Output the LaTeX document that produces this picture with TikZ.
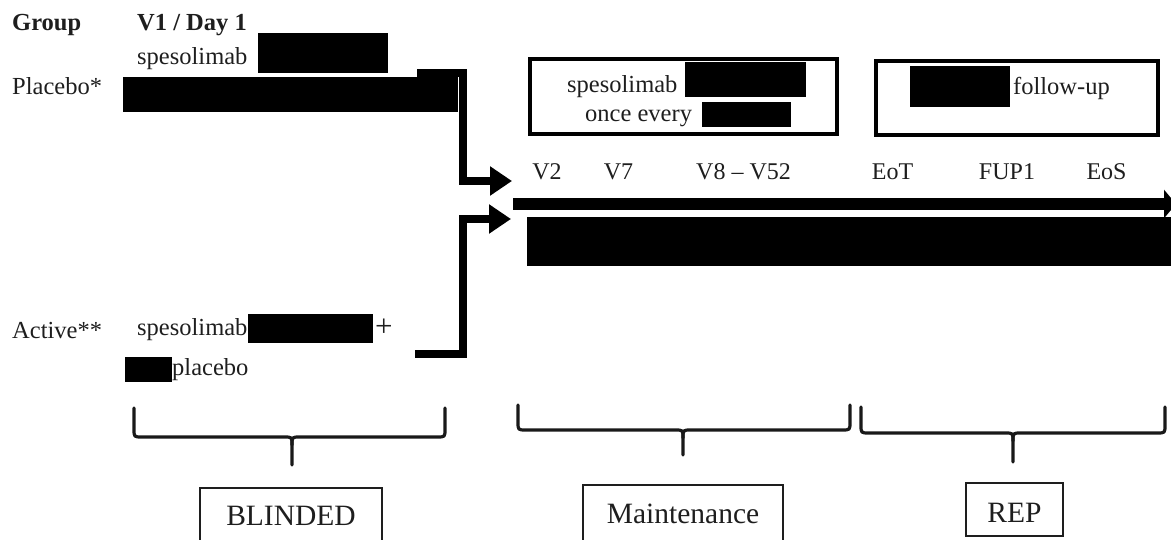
\documentclass[tikz,border=0pt]{standalone}
\usepackage{fontspec}
\setmainfont{Liberation Serif}
\usetikzlibrary{arrows.meta,calc}
\definecolor{ink}{RGB}{30,30,30}
\tikzset{
  lbl/.style={inner sep=0pt, anchor=base west, text=ink, font=\fontsize{24.5}{29}\selectfont},
  lblb/.style={lbl, font=\fontsize{24.5}{29}\selectfont\bfseries},
  tick/.style={inner sep=0pt, anchor=base, text=ink, font=\fontsize{24}{29}\selectfont},
  phase/.style={inner sep=0pt, anchor=base, text=ink, font=\fontsize{29.5}{34}\selectfont},
  conn/.style={line width=8pt, line join=miter, -{Triangle[length=22pt,width=28pt]}},
  timeline/.style={line width=12pt, -{Triangle[length=12pt,width=28pt]}},
  topbox/.style={line width=3.5pt, draw=black},
  phasebox/.style={line width=1.2pt, draw=ink},
  brace/.style={line width=3.2pt, draw=black!90, line cap=round, line join=round},
}
\begin{document}
\begin{tikzpicture}[x=1pt,y=-1pt]
\useasboundingbox (0,0) rectangle (1171,540);

% header
\node[lblb] (grp) at (12,31) {Group};
\node[lblb] (v1) at (137,31) {V1 / Day 1};

% placebo group
\node[lbl] (plc) at (12,95) {Placebo*};
\node[lbl] (plcdrug) at (137,65) {spesolimab};
\fill (258,33) rectangle (388,73);
\fill (123,77) rectangle (458,112);

% active group
\node[lbl] (act) at (12,338) {Active**};
\node[lbl] (actdrug) at (137,335) {spesolimab};
\fill (248,314) rectangle (373,343);
\node[lbl, font=\fontsize{31}{34}\selectfont] (plus) at (375,337) {+};
\fill (125,357) rectangle (172,382);
\node[lbl] (actplc) at (172,375) {placebo};

% connectors
\coordinate (pstart) at (417,73.5);
\coordinate (astart) at (415,353.5);
\coordinate (vx) at (463,0);
\coordinate (ptip) at (512,181);
\coordinate (atip) at (511,219);
\draw[conn] (pstart) -- (pstart -| vx) |- (ptip);
\draw[conn] (astart) -- (astart -| vx) |- (atip);

% timeline
\coordinate (tl0) at (513,204);
\coordinate (tl1) at (1176,204);
\draw[timeline] (tl0) -- (tl1);
\fill (527,217) rectangle (1171,266);

\node[tick] (v2) at (547,180) {V2};
\node[tick] (v7) at (618.5,180) {V7};
\node[tick] (v852) at (743.5,180) {V8 -- V52};
\node[tick] (eot) at (892.5,180) {EoT};
\node[tick] (fup) at (1007,180) {FUP1};
\node[tick] (eos) at (1106.5,180) {EoS};

% top boxes
\draw[topbox] (530,59) rectangle (837,134);
\node[lbl] (mdrug) at (567,93) {spesolimab};
\fill (685,62) rectangle (806,97);
\node[lbl] (monce) at (585,122) {once every};
\fill (702,102) rectangle (791,127);

\draw[topbox] (876,61) rectangle (1158,135);
\fill (910,66) rectangle (1010,107);
\node[lbl] (fu) at (1013,95) {follow-up};

% braces
\draw[brace] (134,408) -- (134,429) .. controls (134,437) .. (142,437) -- (284,437) .. controls (292,437) .. (292,445) -- (292,465);
\draw[brace] (292,445) .. controls (292,437) .. (300,437) -- (437,437) .. controls (445,437) .. (445,429) -- (445,408);

\draw[brace] (518,405) -- (518,422) .. controls (518,430) .. (526,430) -- (675,430) .. controls (683,430) .. (683,438) -- (683,455);
\draw[brace] (683,438) .. controls (683,430) .. (691,430) -- (842,430) .. controls (850,430) .. (850,422) -- (850,405);

\draw[brace] (861,407) -- (861,425) .. controls (861,433) .. (869,433) -- (1005,433) .. controls (1013,433) .. (1013,441) -- (1013,462);
\draw[brace] (1013,441) .. controls (1013,433) .. (1021,433) -- (1157,433) .. controls (1165,433) .. (1165,425) -- (1165,407);

% phase boxes
\draw[phasebox] (200,546) -- (200,488) -- (382,488) -- (382,546);
\node[phase] (blind) at (291,525) {BLINDED};
\draw[phasebox] (583,546) -- (583,485) -- (783,485) -- (783,546);
\node[phase] (maint) at (683,523) {Maintenance};
\draw[phasebox] (966,483) rectangle (1063,536);
\node[phase] (rep) at (1014.5,522) {REP};
\end{tikzpicture}
\end{document}
